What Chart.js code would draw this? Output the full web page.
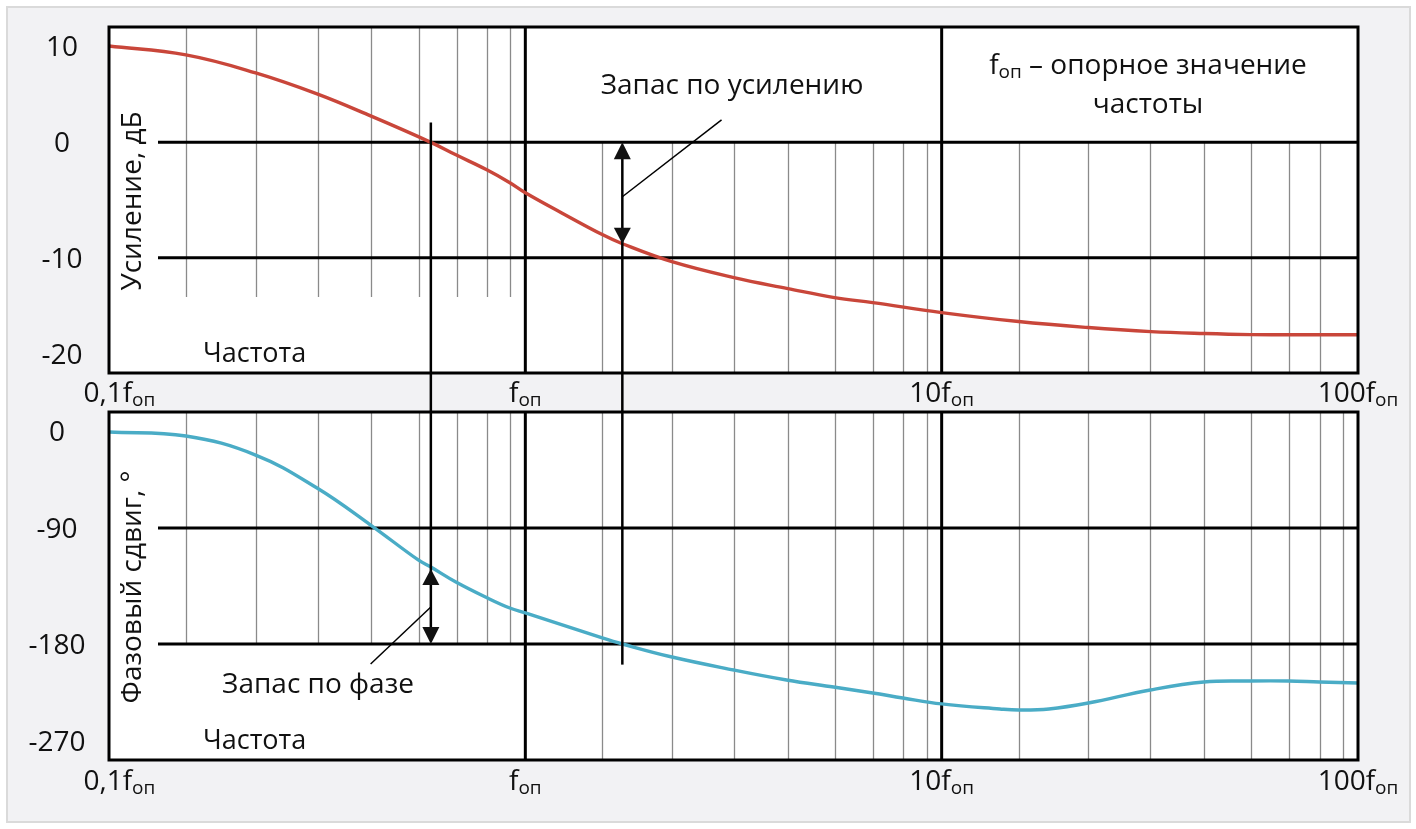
<!DOCTYPE html>
<html lang="ru">
<head>
<meta charset="utf-8">
<title>Запас по усилению и по фазе</title>
<script src="https://cdn.jsdelivr.net/npm/chart.js@4.4.1/dist/chart.umd.min.js"></script>
<style>
  html, body { margin: 0; padding: 0; background: #fff; }
  #wrap { position: relative; width: 1416px; height: 829px; overflow: hidden; }
  #frame { position: absolute; left: 6px; top: 6px; width: 1401px; height: 813px;
           border: 2px solid #dadada; background: #f2f2f4; }
  canvas { position: absolute; left: 0; top: 0; }
</style>
</head>
<body>
<div id="wrap">
  <div id="frame"></div>
  <canvas id="gainChart" width="1416" height="829"></canvas>
  <canvas id="phaseChart" width="1416" height="829"></canvas>
</div>
<script>
// частота в долях f_оп
var gainFreq = [0.1, 0.153, 0.225, 0.316, 0.425, 0.593, 0.681, 0.808, 0.918, 1.0, 1.22, 1.53, 1.71,
                2.25, 3.17, 4.27, 5.53, 6.83, 10, 15.3, 22.5, 31.8, 42.8, 55.2, 68.1, 80.7, 100];
var gainDb = [8.35, 7.58, 6.02, 4.2, 2.29, 0, -1.08, -2.38, -3.5, -4.37, -6.1, -8.0, -8.79,
              -10.35, -11.73, -12.68, -13.46, -13.9, -14.76, -15.54, -16.06, -16.41, -16.58, -16.67,
              -16.68, -16.68, -16.68];

var phaseFreq = [0.1, 0.153, 0.225, 0.316, 0.425, 0.553, 0.593, 0.681, 0.811, 0.918, 1.0, 1.53, 1.71,
                 2.25, 3.17, 4.24, 5.5, 6.83, 8.07, 10, 13.8, 15.3, 18.1, 22.5, 31.7, 42.6, 55.1, 68.1, 80.7, 100];
var phaseDeg = [-15.5, -18.6, -33.4, -59.0, -87.7, -114.8, -120.3, -131.9, -144.3, -152.1, -155.9, -175.3, -180,
                -190.1, -200.2, -207.9, -213.4, -218.0, -221.9, -226.5, -230.4, -231.2, -230.4, -225.8,
                -215.7, -209.5, -208.7, -208.7, -209.5, -210.3];

var freqTicks = [0.1, 1, 10, 100];
var freqTickLabels = ['0,1', '', '10', '100'];
var gainTicks = [10, 0, -10, -20];
var phaseTicks = [0, -90, -180, -270];
// промежуточные линии сетки внутри декады (так, как они нарисованы)
var minorSteps = [1.53, 2.25, 3.17, 4.27, 5.54, 6.84, 8.09, 9.2];

var gainMarginFreq = 1.71;
var phaseMarginFreq = 0.593;

var FONT = '"Open Sans", "DejaVu Sans", sans-serif';
var PANEL_GAP = 39;

function line(ctx, x1, y1, x2, y2) {
    ctx.beginPath();
    ctx.moveTo(x1, y1);
    ctx.lineTo(x2, y2);
    ctx.stroke();
}

function arrowHead(ctx, x, tipY, baseY) {
    ctx.beginPath();
    ctx.moveTo(x, tipY);
    ctx.lineTo(x - 8.5, baseY);
    ctx.lineTo(x + 8.5, baseY);
    ctx.closePath();
    ctx.fill();
}

// текст с нижним индексом: parts = [[текст, индекс?], ...]
function richText(ctx, parts, x, y, size, align) {
    var sub = Math.round(size * 0.68);
    var w = 0;
    parts.forEach(function (p) {
        ctx.font = (p[1] ? sub : size) + 'px ' + FONT;
        p.w = ctx.measureText(p[0]).width;
        w += p.w;
    });
    var cx = align === 'center' ? x - w / 2 : (align === 'right' ? x - w : x);
    ctx.textAlign = 'left';
    ctx.textBaseline = 'alphabetic';
    parts.forEach(function (p) {
        ctx.font = (p[1] ? sub : size) + 'px ' + FONT;
        ctx.fillText(p[0], cx, p[1] ? y + 4 : y);
        cx += p.w;
    });
    return w;
}

function bodePlugin(cfg) {
    return {
        id: 'bode',
        beforeDatasetsDraw: function (chart) {
            var ctx = chart.ctx, a = chart.chartArea;
            var xs = chart.scales.x, ys = chart.scales.y;
            ctx.save();
            ctx.fillStyle = '#ffffff';
            ctx.fillRect(a.left, a.top, a.right - a.left, a.bottom - a.top);

            ctx.strokeStyle = '#8a8a8a';
            ctx.lineWidth = 1.3;
            cfg.minorSpans.forEach(function (s, d) {
                minorSteps.slice(0, s.count).forEach(function (m) {
                    var px = Math.round(xs.getPixelForValue(freqTicks[d] * m)) + 0.5;
                    line(ctx, px, ys.getPixelForValue(s.from), px, ys.getPixelForValue(s.to));
                });
            });

            ctx.strokeStyle = '#000';
            ctx.lineWidth = 3;
            cfg.hLines.forEach(function (v) {
                var py = ys.getPixelForValue(v);
                line(ctx, a.left + 49, py, a.right, py);
            });
            [1, 10].forEach(function (f) {
                var px = xs.getPixelForValue(f);
                line(ctx, px, a.top, px, a.bottom);
            });
            ctx.restore();
        },
        afterDatasetsDraw: function (chart) {
            var ctx = chart.ctx, a = chart.chartArea;
            var xs = chart.scales.x, ys = chart.scales.y;
            ctx.save();
            ctx.strokeStyle = '#000';
            ctx.lineWidth = 3;
            ctx.strokeRect(a.left, a.top, a.right - a.left, a.bottom - a.top);

            ctx.fillStyle = '#111';
            ctx.strokeStyle = '#000';
            cfg.annotate(chart, ctx, xs, ys, a);

            // подписи оси Y
            ctx.fillStyle = '#111';
            ctx.font = '28px ' + FONT;
            ctx.textAlign = 'center';
            ctx.textBaseline = 'alphabetic';
            cfg.ticks.forEach(function (v) {
                var py = Math.min(Math.max(ys.getPixelForValue(v), a.top + 19), a.bottom - 19);
                ctx.fillText(String(v), a.left - cfg.yLabelDx, py + 10);
            });

            // подписи оси X
            freqTicks.forEach(function (f, i) {
                var parts = [[freqTickLabels[i] + 'f', false], ['оп', true]];
                var px = xs.getPixelForValue(f);
                ctx.font = '28px ' + FONT;
                var w = ctx.measureText(parts[0][0]).width + 20;
                px = Math.max(px, a.left - 24 + w / 2);
                richText(ctx, parts, px, a.bottom + cfg.xLabelDy, 28, 'center');
            });

            ctx.font = '27px ' + FONT;
            ctx.textAlign = 'left';
            ctx.fillText('Частота', a.left + 94, a.bottom - 11);

            ctx.save();
            ctx.translate(a.left + 32, cfg.titleY);
            ctx.rotate(-Math.PI / 2);
            ctx.font = cfg.titleSize + 'px ' + FONT;
            ctx.textAlign = 'center';
            ctx.fillText(cfg.title, 0, 0);
            ctx.restore();

            ctx.restore();
        }
    };
}

function makeChart(id, freq, values, color, yMin, yMax, padding, cfg) {
    var pts = freq.map(function (f, i) { return { x: f, y: values[i] }; });
    return new Chart(document.getElementById(id), {
        type: 'line',
        data: {
            datasets: [{
                data: pts,
                borderColor: color,
                borderWidth: 3.4,
                pointRadius: 0,
                tension: 0.4,
                fill: false
            }]
        },
        options: {
            responsive: false,
            animation: false,
            events: [],
            layout: { padding: padding },
            plugins: { legend: { display: false }, tooltip: { enabled: false } },
            scales: {
                x: { type: 'logarithmic', min: 0.1, max: 100, display: false },
                y: { type: 'linear', min: yMin, max: yMax, display: false }
            }
        },
        plugins: [bodePlugin(cfg)]
    });
}

// Усиление
makeChart('gainChart', gainFreq, gainDb, '#c9463a', -20, 10,
    { left: 109, right: 58, top: 27, bottom: 456 },
    {
        ticks: gainTicks,
        hLines: [0, -10],
        minorSpans: [{ from: 10, to: -13.4, count: 8 }, { from: 0, to: -20, count: 8 }, { from: 0, to: -20, count: 7 }],
        yLabelDx: 47,
        xLabelDy: 29,
        titleY: 201,
        titleSize: 28,
        title: 'Усиление, дБ',
        annotate: function (chart, ctx, xs, ys, a) {
            var gx = xs.getPixelForValue(gainMarginFreq);
            var y0 = ys.getPixelForValue(0);
            var yc = ys.getPixelForValue(gainDb[gainFreq.indexOf(gainMarginFreq)]);
            ctx.lineWidth = 2.5;
            line(ctx, gx, y0 + 8, gx, a.bottom + PANEL_GAP);
            arrowHead(ctx, gx, y0, y0 + 17);
            arrowHead(ctx, gx, yc, yc - 16);
            ctx.lineWidth = 1.5;
            line(ctx, gx, ys.getPixelForValue(-4.72), xs.getPixelForValue(2.96), ys.getPixelForValue(1.95));

            var px = xs.getPixelForValue(phaseMarginFreq);
            ctx.lineWidth = 2.5;
            line(ctx, px, ys.getPixelForValue(1.73), px, a.bottom + PANEL_GAP);

            ctx.font = '28px ' + FONT;
            ctx.textAlign = 'center';
            ctx.fillText('Запас по усилению', 732, 94);
            richText(ctx, [['f', false], ['оп', true], [' – опорное значение', false]], 1148, 74, 28, 'center');
            ctx.font = '28px ' + FONT;
            ctx.textAlign = 'center';
            ctx.fillText('частоты', 1148, 113);
        }
    });

// Фаза
makeChart('phaseChart', phaseFreq, phaseDeg, '#4aacc6', -270, 0,
    { left: 109, right: 58, top: 412, bottom: 69 },
    {
        ticks: phaseTicks,
        hLines: [-90, -180],
        minorSpans: [{ from: 0, to: -180, count: 8 }, { from: 0, to: -270, count: 8 }, { from: 0, to: -270, count: 8 }],
        yLabelDx: 52,
        xLabelDy: 30,
        titleY: 587,
        titleSize: 28,
        title: 'Фазовый сдвиг, °',
        annotate: function (chart, ctx, xs, ys, a) {
            var px = xs.getPixelForValue(phaseMarginFreq);
            var yc = ys.getPixelForValue(phaseDeg[phaseFreq.indexOf(phaseMarginFreq)]);
            var y180 = ys.getPixelForValue(-180);
            ctx.lineWidth = 2.5;
            line(ctx, px, a.top, px, y180 - 8);
            arrowHead(ctx, px, yc + 2, yc + 18);
            arrowHead(ctx, px, y180, y180 - 17);
            ctx.lineWidth = 1.5;
            line(ctx, px, ys.getPixelForValue(-151.3), xs.getPixelForValue(0.425), ys.getPixelForValue(-195.5));

            var gx = xs.getPixelForValue(gainMarginFreq);
            ctx.lineWidth = 2.5;
            line(ctx, gx, a.top, gx, ys.getPixelForValue(-196));

            ctx.font = '28px ' + FONT;
            ctx.textAlign = 'center';
            ctx.fillText('Запас по фазе', 318, 693);
        }
    });
</script>
</body>
</html>
